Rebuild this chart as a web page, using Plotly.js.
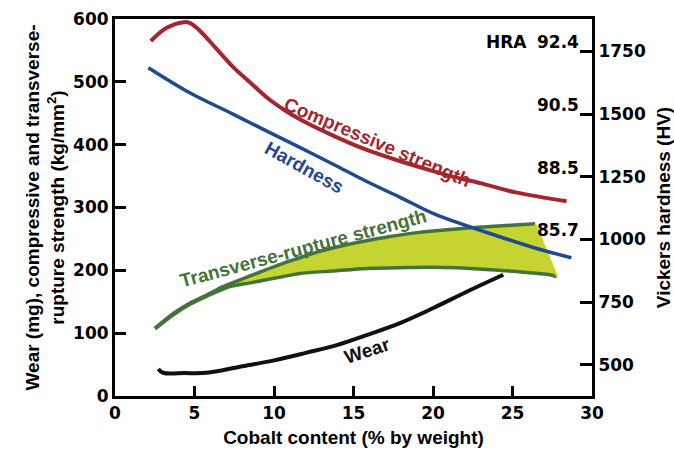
<!DOCTYPE html>
<html>
<head>
<meta charset="utf-8">
<script src="https://cdn.plot.ly/plotly-3.0.1.min.js"></script>
<style>html,body{margin:0;padding:0;background:#fff;}#chart{width:674px;height:453px;}</style>
</head>
<body>
<div id="chart"></div>
<script>
// Cobalt content (% by weight) and property values
const compressiveX = [2.25, 3.25, 4.3, 4.7, 5.35, 6.4, 7.45, 8.5, 9.55, 10.6, 11.65, 13.75, 15.8, 17.9, 20.0, 21.1, 23.1, 25.2, 28.4];
const compressiveY = [565, 586, 595, 594, 581, 552, 523, 499, 475, 456, 440, 414, 392, 374, 358, 350, 338, 324, 310];

const hardnessX = [2.1, 4.7, 7.45, 9.55, 11.65, 13.75, 15.8, 17.9, 20.0, 22.0, 24.1, 26.2, 28.7];
const hardnessHV = [1685, 1585, 1499, 1432, 1366, 1299, 1232, 1169, 1104, 1057, 1013, 970, 927];

const ruptureUpperX = [2.52, 3.65, 4.72, 5.79, 6.79, 8.49, 10.57, 11.64, 12.70, 14.78, 16.86, 19.0, 21.07, 23.14, 26.42];
const ruptureUpperY = [108, 131, 148, 161, 174, 191, 211, 220, 229, 242, 252, 260, 265, 269, 274];
const ruptureLowerX = [2.52, 3.65, 4.72, 5.79, 7.23, 8.49, 10.57, 11.64, 13.71, 15.85, 17.74, 19.8, 21.5, 23.58, 25.28, 27.36, 27.8];
const ruptureLowerY = [107, 129, 146, 159, 174, 180, 190, 195, 199, 203, 204, 205, 204, 201, 198, 193, 190];

const wearX = [2.72, 3.02, 4.4, 5.77, 7.86, 9.94, 12.06, 13.94, 15.83, 17.92, 20.02, 22.12, 24.42];
const wearY = [43, 37, 36.5, 37, 46.7, 56.3, 69, 81, 97, 116, 140, 166, 193];

const xTicks = [0, 5, 10, 15, 20, 25, 30];
const leftTicks = [0, 100, 200, 300, 400, 500, 600];
const vickersTicks = [500, 750, 1000, 1250, 1500, 1750];
const hraValues = [1750, 1500, 1250, 1000];
const hraLabels = ["92.4", "90.5", "88.5", "85.7"];

const RED = "#a3272f", BLUE = "#1f4a8e", GREEN = "#44733a", FILL = "#c6d431";
const TXT = "Liberation Sans, Arial, Helvetica, sans-serif";
const NUM = "DejaVu Sans, Verdana, sans-serif";

const nU = ruptureUpperX.length, nL = ruptureLowerX.length;
const bandX = ruptureUpperX.concat(ruptureLowerX.slice().reverse());
const bandY = ruptureUpperY.concat(ruptureLowerY.slice().reverse());

const traces = [
  {x: bandX, y: bandY, type: "scatter", mode: "lines", fill: "toself", fillcolor: FILL,
   line: {color: FILL, width: 0}, hoverinfo: "skip"},
  {x: ruptureUpperX, y: ruptureUpperY, type: "scatter", mode: "lines",
   line: {color: GREEN, width: 3.5, shape: "spline", smoothing: 0.8}},
  {x: ruptureLowerX, y: ruptureLowerY, type: "scatter", mode: "lines",
   line: {color: GREEN, width: 3.5, shape: "spline", smoothing: 0.8}},
  {x: [ruptureUpperX[nU - 1], ruptureLowerX[nL - 1]], y: [ruptureUpperY[nU - 1], ruptureLowerY[nL - 1]],
   type: "scatter", mode: "lines", line: {color: FILL, width: 2}},
  {x: compressiveX, y: compressiveY, type: "scatter", mode: "lines",
   line: {color: RED, width: 4, shape: "spline"}},
  {x: wearX, y: wearY, type: "scatter", mode: "lines",
   line: {color: "#111", width: 4, shape: "spline"}},
  {x: hardnessX, y: hardnessHV, yaxis: "y2", type: "scatter", mode: "lines",
   line: {color: BLUE, width: 3.5, shape: "spline"}}
];

const annotations = [
  {x: 16.54, y: 403, text: "Compressive strength", textangle: 23, color: RED},
  {x: 11.9, y: 364, text: "Hardness", textangle: 29, color: BLUE},
  {x: 11.8, y: 235, text: "Transverse-rupture strength", textangle: -15, color: GREEN},
  {x: 15.9, y: 72, text: "Wear", textangle: -18, color: "#111"}
].map(a => ({x: a.x, y: a.y, xref: "x", yref: "y", text: a.text, textangle: a.textangle,
  showarrow: false, font: {family: TXT, size: 19, weight: "bold", color: a.color}}));

hraValues.forEach((v, i) => {
  annotations.push({x: 1, y: v, xref: "paper", yref: "y2", xanchor: "right", yanchor: "middle",
    xshift: -11, yshift: 9, text: hraLabels[i], showarrow: false,
    font: {family: NUM, size: 17, weight: "bold", color: "#000"}});
});
annotations.push({x: 1, y: hraValues[0], xref: "paper", yref: "y2", xanchor: "right", yanchor: "middle",
  xshift: -63, yshift: 9, text: "HRA", showarrow: false,
  font: {family: NUM, size: 17, weight: "bold", color: "#000"}});

const layout = {
  width: 674, height: 453,
  margin: {l: 115, r: 82, t: 19, b: 57},
  paper_bgcolor: "#fff", plot_bgcolor: "#fff",
  showlegend: false,
  xaxis: {
    range: [0, 30], tickvals: xTicks, ticks: "inside", ticklen: 10, tickwidth: 3, tickcolor: "#000",
    showline: true, linewidth: 3, linecolor: "#000", mirror: true, showgrid: false, zeroline: false,
    tickfont: {family: NUM, size: 17, weight: "bold", color: "#000"},
    title: {text: "Cobalt content (% by weight)", standoff: 9,
      font: {family: TXT, size: 19, weight: "bold", color: "#000"}}
  },
  yaxis: {
    range: [0, 600], tickvals: leftTicks, ticks: "inside", ticklen: 11, tickwidth: 3, tickcolor: "#000",
    showline: true, linewidth: 3, linecolor: "#000", mirror: true, showgrid: false, zeroline: false,
    tickfont: {family: NUM, size: 17, weight: "bold", color: "#000"},
    title: {text: "Wear (mg), compressive and transverse-<br>rupture strength (kg/mm<sup>2</sup>)", standoff: 4,
      font: {family: TXT, size: 19, weight: "bold", color: "#000"}}
  },
  yaxis2: {
    overlaying: "y", side: "right", range: [376, 1879], tickvals: vickersTicks,
    ticks: "inside", ticklen: 12, tickwidth: 3, tickcolor: "#000",
    showline: true, linewidth: 3, linecolor: "#000", showgrid: false, zeroline: false,
    tickfont: {family: NUM, size: 17, weight: "bold", color: "#000"},
    title: {text: "Vickers hardness (HV)", standoff: 13,
      font: {family: TXT, size: 19, weight: "bold", color: "#000"}}
  },
  annotations: annotations
};

Plotly.newPlot("chart", traces, layout, {staticPlot: true, displayModeBar: false});
</script>
</body>
</html>
